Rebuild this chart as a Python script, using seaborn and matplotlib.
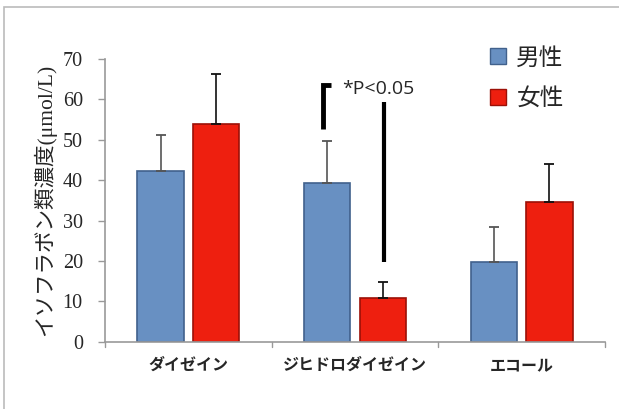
import matplotlib
matplotlib.use("Agg")
import matplotlib.pyplot as plt
import matplotlib.patches as mpatches
import pandas as pd
import numpy as np
import seaborn as sns

# データ
categories = ['ダイゼイン', 'ジヒドロダイゼイン', 'エコール']
groups = ['男性', '女性']
male_mean = [42.3, 39.2, 19.7]
female_mean = [53.8, 10.7, 34.5]
male_sd = [8.8, 10.6, 8.6]
female_sd = [12.5, 4.1, 9.5]

sns.set_theme(style='white')
plt.rcParams['font.family'] = ['Noto Sans CJK JP', 'DejaVu Sans']

df = pd.DataFrame({
    'cat': categories * 2,
    'sex': [groups[0]] * 3 + [groups[1]] * 3,
    'val': male_mean + female_mean,
})
colors = {'男性': '#6890c2', '女性': '#ee1f0f'}
edges = {'男性': '#41618c', '女性': '#9c1007'}

fig = plt.figure(figsize=(6.19, 4.09), dpi=100)
ax = fig.add_axes([105/619, 1-341.7/409, 500/619, (341.7-59)/409])

sns.barplot(data=df, x='cat', y='val', hue='sex', order=categories, hue_order=groups,
            palette=colors, saturation=1, width=0.667, gap=0.17, errorbar=None,
            ax=ax, legend=True)

# 誤差棒(上側のみ)
err_cols = {'男性': '#555555', '女性': '#111111'}
for cont, g, sd in zip(ax.containers, groups, [male_sd, female_sd]):
    xs = [p.get_x() + p.get_width()/2 for p in cont]
    hs = [p.get_height() for p in cont]
    for p in cont:
        p.set_edgecolor(edges[g])
        p.set_linewidth(1.2)
    ax.errorbar(xs, hs, yerr=[np.zeros(len(sd)), sd], fmt='none',
                ecolor=err_cols[g], elinewidth=1.2, capsize=3.5, capthick=1.3, zorder=1)

ax.set_ylim(0, 70)
ax.set_xlim(-0.5, 2.5)
ax.set_yticks(range(0, 71, 10))
ax.set_yticklabels([str(v) for v in range(0, 71, 10)], family='Liberation Serif', fontsize=14.5)
ax.set_xticks([0, 1, 2])
ax.set_xticklabels(categories, fontsize=11.5, fontweight='bold')
ax.tick_params(axis='x', length=0, pad=11)
ax.tick_params(axis='y', length=5, width=1, color='#999999', left=True, pad=11)
for xb in [-0.5, 0.5, 1.5, 2.5]:
    ax.plot([xb, xb], [0, -1.2], color='#999999', lw=1, clip_on=False)
ax.set_xlabel('')
ax.set_ylabel('イソフラボン類濃度(μmol/L)', family=['Liberation Serif', 'Noto Sans CJK JP'],
              fontsize=15.5, labelpad=5)

for s in ['top', 'right']:
    ax.spines[s].set_visible(False)
for s in ['left', 'bottom']:
    ax.spines[s].set_color('#999999')
    ax.spines[s].set_linewidth(1.2)

# 有意差表示
ax.plot([0.806, 0.806, 0.856], [52.6, 63.5, 63.5], color='black', lw=3.5,
        solid_joinstyle='miter', solid_capstyle='butt')
ax.plot([1.176, 1.176], [19.8, 59.4], color='black', lw=3, solid_capstyle='butt')
ax.text(0.92, 62.6, '*P<0.05', family='Open Sans', fontsize=14, va='center', ha='left')

# 凡例
handles = [mpatches.Patch(facecolor=colors[g], edgecolor=edges[g]) for g in groups]
ax.legend(handles, groups, loc='upper left', bbox_to_anchor=(481/619, 1-37/409),
          bbox_transform=fig.transFigure, frameon=False, fontsize=17,
          handlelength=0.65, handleheight=0.65, handletextpad=0.45, labelspacing=0.75,
          borderaxespad=0)

# 外枠
fig.patches.append(mpatches.Rectangle((4/619, -0.2), 1.2, 1.2 - 7.3/409,
                                      transform=fig.transFigure, fill=False,
                                      edgecolor='#bbbbbb', lw=1.2))

fig.savefig('out.png', dpi=100)
